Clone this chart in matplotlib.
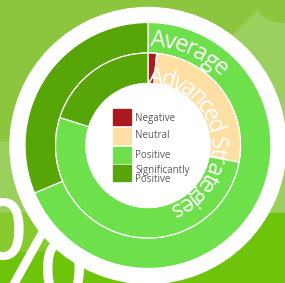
"""
Two-ring donut: sentiment mix for "Average" (outer) vs "Advanced Strategies" (inner),
curved ring labels, legend in the hole, decorative green background.
Writes out.png (285x283).
"""
import matplotlib
matplotlib.use("Agg")
import matplotlib.pyplot as plt
import numpy as np
from matplotlib.patches import Circle, Rectangle, Polygon
from matplotlib.font_manager import FontProperties

W, H = 285, 283

# data
categories = ["Negative", "Neutral", "Positive", "Significantly\nPositive"]
colors = ["#ab191e", "#fddfa3", "#6ee04b", "#57a506"]
average_values = [0.0, 0.0, 68.7, 31.3]
advanced_values = [1.5, 26.4, 52.0, 20.1]
ring_names = ["Average", "Advanced Strategies"]

CX, CY = 148, H - 145.5
R_OUT, R_MID, R_IN = 123, 92.5, 62
FONT = "Open Sans"


def py(y):
    """pixel row (from top) -> data y"""
    return H - y


def curved_text(ax, renderer, text, r_base, a_start, a_end, size):
    fp = FontProperties(family=FONT, size=size)
    pref = [0.0]
    for i in range(1, len(text) + 1):
        w, _, _ = renderer.get_text_width_height_descent(text[:i].replace(" ", "\u00a0"), fp, ismath=False)
        pref.append(w)
    total = pref[-1]
    for i, ch in enumerate(text):
        if ch == " ":
            continue
        mid = (pref[i] + pref[i + 1]) / 2
        th = a_start + mid / total * (a_end - a_start)
        t = np.radians(th)
        ax.text(CX + r_base * np.sin(t), CY + r_base * np.cos(t), ch,
                rotation=-th, rotation_mode="anchor", ha="center", va="baseline",
                fontproperties=fp, color="white", zorder=6)


fig = plt.figure(figsize=(W / 100, H / 100), dpi=100)
ax = fig.add_axes([0, 0, 1, 1])
fig.patch.set_facecolor("#8cc63f")

# background decoration
ax.add_patch(Rectangle((0, 0), W, H, color="#8cc63f", zorder=0))
ax.add_patch(Polygon([(190, py(78)), (268, py(0)), (W, py(0)), (W, py(213)), (0, py(213)), (0, py(142)), (190, py(142))],
                     color="#9bd05e", zorder=0.5))
ax.add_patch(Circle((282, py(-8)), 30, color="#8cc63f", zorder=0.6))
ax.add_patch(Rectangle((0, py(252)), 60, 39, color="#86ca2e", zorder=0.7))
ax.add_patch(Rectangle((60, 0), W, py(213), color="#6dc40b", zorder=0.7))
ax.add_patch(Rectangle((0, 0), 60, py(252), color="#6dc40b", zorder=0.7))
ax.text(-25, py(299), "%", fontsize=100, family=FONT, color="white", ha="left", va="baseline",
        clip_on=True, zorder=1)

# white ring behind the chart
ax.add_patch(Circle((CX, CY), 138, color="white", zorder=2))

wp = dict(edgecolor="white", linewidth=0.9)
for vals, r in ((average_values, R_OUT), (advanced_values, R_MID)):
    keep = [(v, c) for v, c in zip(vals, colors) if v > 0]
    wedges, _ = ax.pie([k[0] for k in keep], colors=[k[1] for k in keep], radius=r,
                       center=(CX, CY), startangle=90, counterclock=False,
                       wedgeprops=dict(width=r - (R_MID if r == R_OUT else R_IN), **wp))
    for w in wedges:
        w.set_zorder(3)
ax.add_patch(Circle((CX, CY), R_IN, facecolor="white", edgecolor="white", linewidth=0.9, zorder=4))

ax.set_xlim(0, W)
ax.set_ylim(0, H)
ax.set_aspect("auto")
ax.axis("off")

renderer = fig.canvas.get_renderer()
curved_text(ax, renderer, ring_names[0], 99, 1.5, 46, 17)
curved_text(ax, renderer, ring_names[1], 62.5, 1.5, 161, 16.5)

# legend in the hole
sq_top = [109, 128, 147, 165]
txt_mid = [118, 136, 155, 175]
for cat, col, top, ym in zip(categories, colors, sq_top, txt_mid):
    ax.add_patch(Rectangle((113, py(top + 16)), 18, 16, color=col, zorder=5))
    ax.text(135.5, py(ym), cat, fontsize=7, family=FONT, color="#58595b",
            ha="left", va="center", linespacing=0.85, zorder=5)

fig.savefig("out.png", dpi=100)
